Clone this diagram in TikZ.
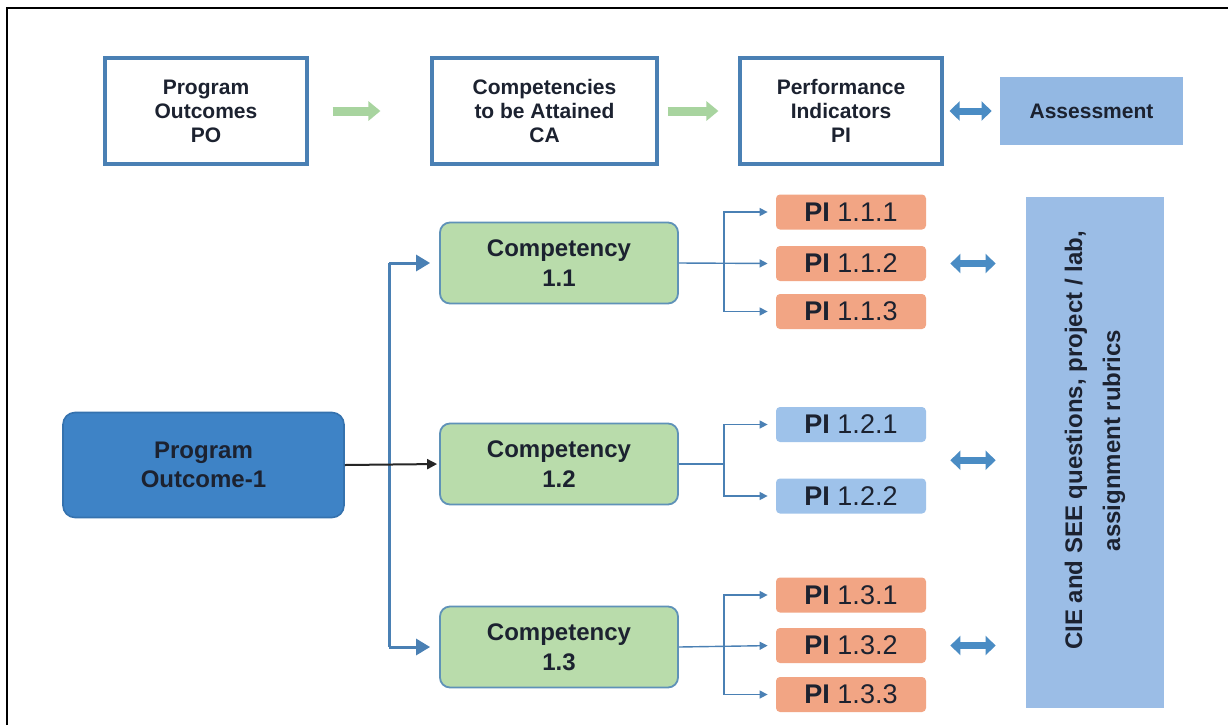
\documentclass[tikz,border=0pt]{standalone}
\usepackage{fontspec}
\setmainfont{Liberation Sans}
\usetikzlibrary{arrows.meta,calc}
\definecolor{steel}{HTML}{4A80B4}
\definecolor{lgreen}{HTML}{A8D49F}
\definecolor{arrowblue}{HTML}{4A8CC4}
\definecolor{assessblue}{HTML}{93B8E3}
\definecolor{cieblue}{HTML}{9BBDE6}
\definecolor{pofill}{HTML}{3E83C6}
\definecolor{poborder}{HTML}{3572AE}
\definecolor{compgreen}{HTML}{B9DCAB}
\definecolor{compborder}{HTML}{5F92B8}
\definecolor{salmon}{HTML}{F2A584}
\definecolor{piblue}{HTML}{9EC2EA}
\definecolor{txt}{HTML}{1C2230}
\begin{document}
\begin{tikzpicture}[x=0.5pt,y=-0.5pt,
  topbox/.style={draw=steel, line width=1.6pt, fill=white, minimum width=101pt, minimum height=53pt, align=center, inner sep=0pt, text=txt, font=\bfseries\fontsize{10.5}{12}\selectfont},
  comp/.style={draw=compborder, line width=0.9pt, fill=compgreen, rounded corners=5pt, minimum width=119pt, minimum height=40.5pt, align=center, inner sep=0pt, text=txt, font=\bfseries\fontsize{12}{15}\selectfont},
  pibox/.style={rounded corners=2pt, minimum width=75pt, minimum height=17.5pt, inner sep=0pt, text=txt, font=\fontsize{13.5}{13.5}\selectfont},
  piorange/.style={pibox, fill=salmon},
  pibluebox/.style={pibox, fill=piblue},
  greenarrow/.style={draw=lgreen, line width=4.5pt, -{Triangle[length=6pt,width=9.5pt]}},
  dblarrow/.style={draw=arrowblue, line width=3.5pt, {Triangle[length=5pt,width=9.5pt]}-{Triangle[length=5pt,width=9.5pt]}},
  branch/.style={draw=steel, line width=0.7pt, -{Triangle[length=4pt,width=4pt]}},
  spine/.style={draw=steel, line width=1.5pt},
  spinehead/.style={draw=steel, line width=1.5pt, -{Triangle[length=7pt,width=8pt]}},
  blackarrow/.style={draw=black!85, line width=1pt, -{Triangle[length=5pt,width=5pt]}}
]
\useasboundingbox (0,0) rectangle (1228,725);
\fill[white] (0,0) rectangle (1228,725);
\draw[line width=1.3pt] (7,725) -- (7,8) -- (1228,8);

% top row
\node[topbox] (po) at (206,111) {Program\\Outcomes\\PO};
\node[topbox, minimum width=112.5pt] (ca) at (544.5,111) {Competencies\\to be Attained\\CA};
\node[topbox] (pi) at (841,111) {Performance\\Indicators\\PI};
\node[fill=assessblue, minimum width=91.5pt, minimum height=34pt, inner sep=0pt, text=txt, font=\bfseries\fontsize{10.5}{12}\selectfont] (as) at (1091.5,111) {Assessment};

\draw[greenarrow, shorten <=12pt, shorten >=25pt] (po.east) -- (ca.west);
\draw[greenarrow, shorten <=4.5pt, shorten >=10pt] (ca.east) -- (pi.west);
\draw[dblarrow, shorten <=3pt, shorten >=4pt] (pi.east) -- (as.west);

% program outcome 1
\node[draw=poborder, line width=0.8pt, fill=pofill, rounded corners=6pt, minimum width=140.5pt, minimum height=52.5pt, align=center, inner sep=0pt, text=txt, font=\bfseries\fontsize{12}{14.5}\selectfont] (po1) at (203.5,465) {Program\\Outcome-1};

% competencies
\node[comp] (c11) at (559,263) {Competency\\1.1};
\node[comp] (c12) at (559,464) {Competency\\1.2};
\node[comp] (c13) at (559,647) {Competency\\1.3};

% performance indicators
\node[piorange] (p111) at (851,212) {\textbf{PI} 1.1.1};
\node[piorange] (p112) at (851,263.5) {\textbf{PI} 1.1.2};
\node[piorange] (p113) at (851,311.5) {\textbf{PI} 1.1.3};
\node[pibluebox] (p121) at (851,424.5) {\textbf{PI} 1.2.1};
\node[pibluebox] (p122) at (851,496) {\textbf{PI} 1.2.2};
\node[piorange] (p131) at (851,595) {\textbf{PI} 1.3.1};
\node[piorange] (p132) at (851,645.5) {\textbf{PI} 1.3.2};
\node[piorange] (p133) at (851,694.5) {\textbf{PI} 1.3.3};

% CIE box
\node[fill=cieblue, minimum width=69pt, minimum height=255.5pt, inner sep=0pt] (cie) at (1095,452.5) {};
\node[rotate=90, align=center, text=txt, font=\bfseries\fontsize{12}{19}\selectfont] (cietext) at ($(cie.center)+(0,-12)$) {CIE and SEE questions, project / lab,\\assignment rubrics};

% spine to competencies
\coordinate (sx) at (389,0);
\draw[spine] (c11.west -| sx) -- (c13.west -| sx);
\draw[spinehead, shorten >=4.5pt] (c11.west -| sx) -- (c11.west);
\draw[spinehead, shorten >=4.5pt] (c13.west -| sx) -- (c13.west);
\draw[blackarrow, shorten >=1pt] (po1.east) -- (c12.west);

% branches
\coordinate (bx) at (724,0);
\draw[branch, shorten >=4pt] (c11.east) -- (p112.west);
\draw[branch, shorten >=4pt] (c11.east -| bx) |- (p111.west);
\draw[branch, shorten >=4pt] (c11.east -| bx) |- (p113.west);
\draw[draw=steel, line width=0.7pt] (c12.east) -- (c12.east -| bx);
\draw[branch, shorten >=4pt] (c12.east -| bx) |- (p121.west);
\draw[branch, shorten >=4pt] (c12.east -| bx) |- (p122.west);
\draw[branch, shorten >=4pt] (c13.east) -- (p132.west);
\draw[branch, shorten >=4pt] (c13.east -| bx) |- (p131.west);
\draw[branch, shorten >=4pt] (c13.east -| bx) |- (p133.west);

% double arrows to CIE
\coordinate (m12) at ($(p121.east)!0.5!(p122.east)$);
\draw[dblarrow, shorten <=12pt, shorten >=15pt] (p112.east) -- (p112.east -| cie.west);
\draw[dblarrow, shorten <=12pt, shorten >=15pt] (m12) -- (m12 -| cie.west);
\draw[dblarrow, shorten <=12pt, shorten >=15pt] (p132.east) -- (p132.east -| cie.west);
\end{tikzpicture}
\end{document}
